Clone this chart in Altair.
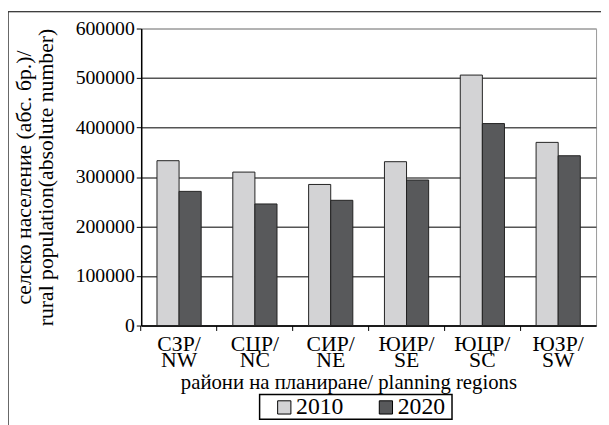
import altair as alt
import pandas as pd

regions = ["СЗР/ NW", "СЦР/ NC", "СИР/ NE", "ЮИР/ SE", "ЮЦР/ SC", "ЮЗР/ SW"]
years = ["2010", "2020"]
pop_2010 = [333000, 310000, 285000, 331000, 506000, 370000]
pop_2020 = [271000, 245600, 253000, 294000, 408000, 343000]
y_ticks = [0, 100000, 200000, 300000, 400000, 500000, 600000]
colors = ["#d3d3d5", "#58595b"]

rows = []
for r, a, b in zip(regions, pop_2010, pop_2020):
    rows.append({"region": r, "year": "2010", "value": a})
    rows.append({"region": r, "year": "2020", "value": b})
df = pd.DataFrame(rows)

FONT = "Liberation Serif, Times New Roman, DejaVu Serif, serif"

bars = alt.Chart(df).mark_bar(stroke="#222", strokeWidth=1).encode(
    x=alt.X("region:N", sort=regions,
            scale=alt.Scale(paddingInner=0.417, paddingOuter=0.208),
            axis=alt.Axis(title="райони на планиране/ planning regions",
                          labelAngle=0, labelExpr="split(datum.label, ' ')",
                          labelFontSize=22, labelLineHeight=17, labelPadding=3,
                          bandPosition=-0.3576,
                          tickSize=5, tickColor="#000",
                          domainColor="#000", domainWidth=1.5,
                          titleFontSize=21, titleFontWeight="normal",
                          titlePadding=1, titleX=210, titleAlign="center",
                          grid=False)),
    xOffset=alt.XOffset("year:N", scale=alt.Scale(paddingInner=0, paddingOuter=0)),
    y=alt.Y("value:Q", scale=alt.Scale(domain=[0, 600000], nice=False),
            axis=alt.Axis(title=["селско население (абс. бр.)/", "rural population(absolute number)"],
                          values=y_ticks, format="d",
                          labelFontSize=20, labelPadding=2,
                          tickSize=5, tickColor="#000",
                          domainColor="#000", domainWidth=1.5,
                          gridColor={"condition": {"test": "datum.value === 600000", "value": "#aaa"}, "value": "#555"},
                          gridWidth=1.5,
                          titleFontSize=22, titleFontWeight="normal",
                          titleLineHeight=22, titlePadding=18)),
    fill=alt.Fill("year:N", scale=alt.Scale(domain=years, range=colors),
                  legend=alt.Legend(title=None, orient="none", direction="horizontal",
                                    legendX=133, legendY=372,
                                    symbolType="square", symbolSize=180,
                                    symbolStrokeColor="#000", symbolStrokeWidth=1,
                                    symbolOffset=0,
                                    labelFontSize=24, labelOffset=0,
                                    columnPadding=31, padding=0)),
)

# outer figure frame and legend box (decoration)
frame = alt.Chart(pd.DataFrame({"a": [0]})).mark_rect(
    filled=False, stroke="#000", strokeWidth=1.2, clip=False
).encode(
    x=alt.value(-135), x2=alt.value(600),
    y=alt.value(-17), y2=alt.value(500),
)
legend_box = alt.Chart(pd.DataFrame({"a": [0]})).mark_rect(
    filled=True, fill="#fff", stroke="#000", strokeWidth=1.5, clip=False
).encode(
    x=alt.value(120), x2=alt.value(315),
    y=alt.value(371), y2=alt.value(396),
)

chart = alt.layer(frame, legend_box, bars).properties(
    width=461, height=301,
    autosize=alt.AutoSizeParams(type="none"),
    padding={"left": 135, "top": 18, "right": 5, "bottom": 98},
).configure(
    font=FONT,
).configure_view(
    stroke="#999", strokeWidth=1,
).configure_axis(
    labelFont=FONT, titleFont=FONT, labelColor="#000", titleColor="#000",
).configure_legend(
    labelFont=FONT, labelColor="#000",
)

chart.save("out.html", embed_options={"renderer": "svg", "actions": False})
